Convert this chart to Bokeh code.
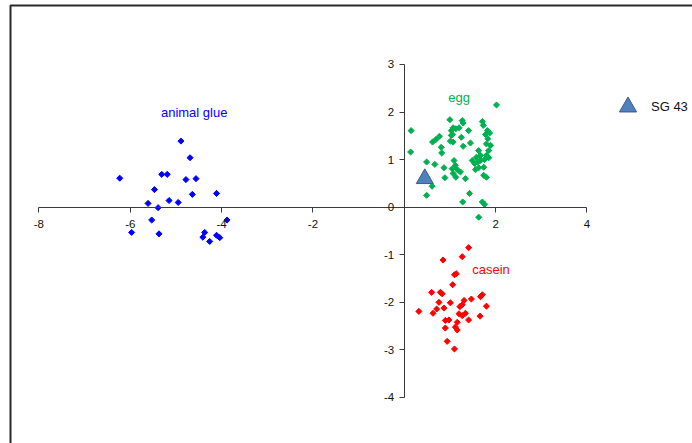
from bokeh.plotting import figure
from bokeh.models import (FixedTicker, BoxAnnotation, Legend, LegendItem,
                          ColumnDataSource, Range1d)
from bokeh.core.properties import value
from bokeh.embed import file_html
from bokeh.resources import INLINE
import math

# ---- data -------------------------------------------------------------
glue_x = [-6.23, -4.89, -4.69, -5.31, -5.19, -4.78, -4.56, -5.47, -4.64, -4.11,
          -5.61, -5.15, -4.95, -5.39, -5.53, -3.88, -5.97, -5.37, -4.37, -4.41,
          -4.26, -4.11, -4.04]
glue_y = [0.61, 1.39, 1.04, 0.69, 0.69, 0.58, 0.60, 0.37, 0.27, 0.29,
          0.08, 0.14, 0.10, -0.01, -0.27, -0.27, -0.53, -0.56, -0.53, -0.63,
          -0.72, -0.59, -0.64]

egg_x = [2.02, 0.15, 0.14, 0.49, 0.49, 0.61, 0.67, 0.87, 0.89, 0.62,
         0.69, 0.77, 0.81, 0.82, 1.00, 1.03, 1.07, 1.13, 1.20, 1.27,
         1.29, 1.41, 1.03, 1.07, 1.06, 1.01, 1.25, 1.29, 1.45, 1.09,
         1.12, 1.05, 1.07, 1.16, 1.23, 1.13, 1.34, 1.28, 1.43, 1.71,
         1.73, 1.82, 1.87, 1.78, 1.83, 1.89, 1.80, 1.85, 1.63, 1.67,
         1.58, 1.49, 1.54, 1.61, 1.67, 1.76, 1.80, 1.85, 1.56, 1.63,
         1.74, 1.74, 1.80, 1.63, 1.71, 1.76]
egg_y = [2.15, 1.61, 1.16, 0.95, 0.25, 0.44, 0.90, 0.83, 0.62, 1.37,
         1.42, 1.49, 1.26, 1.14, 1.84, 1.61, 1.67, 1.65, 1.67, 1.82,
         1.77, 1.61, 1.51, 1.37, 1.53, 1.39, 1.47, 1.28, 1.35, 0.98,
         0.88, 0.81, 0.71, 0.79, 0.74, 0.63, 0.60, 0.11, 0.29, 1.80,
         1.72, 1.61, 1.56, 1.53, 1.44, 1.30, 1.33, 1.19, 1.19, 1.09,
         1.05, 0.98, 0.92, 0.95, 0.98, 1.00, 1.09, 1.04, 0.79, 0.83,
         0.84, 0.67, 0.63, -0.21, 0.11, 0.06]

casein_x = [1.41, 1.27, 0.85, 1.14, 1.10, 1.06, 0.60, 0.79, 0.83, 1.71,
            1.67, 1.47, 1.31, 0.76, 1.01, 1.27, 1.80, 0.71, 0.87, 1.22,
            0.32, 0.63, 1.34, 1.20, 1.27, 1.66, 0.98, 0.90, 1.16, 1.41,
            0.90, 1.12, 1.16, 0.94, 1.10]
casein_y = [-0.85, -1.04, -1.11, -1.40, -1.42, -1.63, -1.79, -1.79, -1.82, -1.84,
            -1.88, -1.93, -1.96, -2.00, -2.01, -2.05, -2.08, -2.14, -2.12, -2.09,
            -2.19, -2.23, -2.23, -2.24, -2.28, -2.29, -2.37, -2.38, -2.42, -2.37,
            -2.54, -2.52, -2.58, -2.82, -2.98]

sample_x = [0.45]
sample_y = [0.60]
sample_name = "SG 43"

label_text = ["animal glue", "egg", "casein"]
label_x = [-4.6, 1.2, 1.9]
label_y = [1.99, 2.31, -1.31]
label_color = ["#0000FF", "#00B050", "#FF0000"]

x_ticks = [-8, -6, -4, -2, 2, 4]
y_ticks = [-4, -3, -2, -1, 0, 1, 2, 3]
x_axis_bounds = (-8, 4)
y_axis_bounds = (-4, 3)

# ---- figure -----------------------------------------------------------
# the frame fills the canvas; the axes cross at the origin
p = figure(width=692, height=443, min_border=0,
           x_range=Range1d(-8.841, 6.312), y_range=Range1d(-4.967, 4.345),
           output_backend="svg", toolbar_location=None,
           background_fill_color="white", border_fill_color="white")
p.outline_line_color = None
p.grid.visible = False

FONT = "Liberation Sans"
for ax in (p.xaxis[0], p.yaxis[0]):
    ax.fixed_location = 0
    ax.axis_line_color = "#3a3a3a"
    ax.axis_line_width = 1
    ax.major_tick_line_color = "#3a3a3a"
    ax.major_tick_out = 5
    ax.major_tick_in = 0
    ax.minor_tick_line_color = None
    ax.major_label_text_font = FONT
    ax.major_label_text_font_size = "11.5px"
    ax.major_label_text_color = "#111111"

p.xaxis[0].ticker = FixedTicker(ticks=x_ticks)
p.yaxis[0].ticker = FixedTicker(ticks=y_ticks)
p.xaxis[0].bounds = x_axis_bounds
p.yaxis[0].bounds = y_axis_bounds
p.xaxis[0].major_label_overrides = {float(t): str(t) for t in x_ticks}
p.yaxis[0].major_label_overrides = {float(t): str(t) for t in y_ticks}
p.xaxis[0].major_label_standoff = 8
p.yaxis[0].major_label_standoff = 5

mk = dict(marker="square", size=4.3, angle=math.pi / 4, line_width=1)
p.scatter(glue_x, glue_y, fill_color="#0000FF", line_color="#0000FF", **mk)
p.scatter(egg_x, egg_y, fill_color="#00B050", line_color="#00B050", **mk)
p.scatter(casein_x, casein_y, fill_color="#FF0000", line_color="#FF0000", **mk)

tri = p.scatter(sample_x, sample_y, marker="triangle", size=17,
                fill_color="#4F81BD", line_color="#385D8A", line_width=1)

src = ColumnDataSource(dict(x=label_x, y=label_y, t=label_text, c=label_color))
p.text(x="x", y="y", text="t", text_color="c", source=src,
       text_font=value(FONT), text_font_size="13px",
       text_align="center", text_baseline="middle")

legend = Legend(items=[LegendItem(label=sample_name, renderers=[tri])],
                location=(606, 315), orientation="vertical",
                glyph_width=43, glyph_height=43, label_standoff=2,
                padding=8, margin=0, spacing=0,
                border_line_color=None, background_fill_alpha=0,
                label_text_font=FONT, label_text_font_size="13px",
                label_text_color="#111111")
p.add_layout(legend)

frame_box = BoxAnnotation(left=10, top=5, right=760, bottom=520,
                          left_units="canvas", top_units="canvas",
                          right_units="canvas", bottom_units="canvas",
                          fill_alpha=0, line_color="#2a2a2a", line_alpha=1.0,
                          line_width=2)
p.add_layout(frame_box)

open("out.html", "w").write(file_html(p, INLINE))
